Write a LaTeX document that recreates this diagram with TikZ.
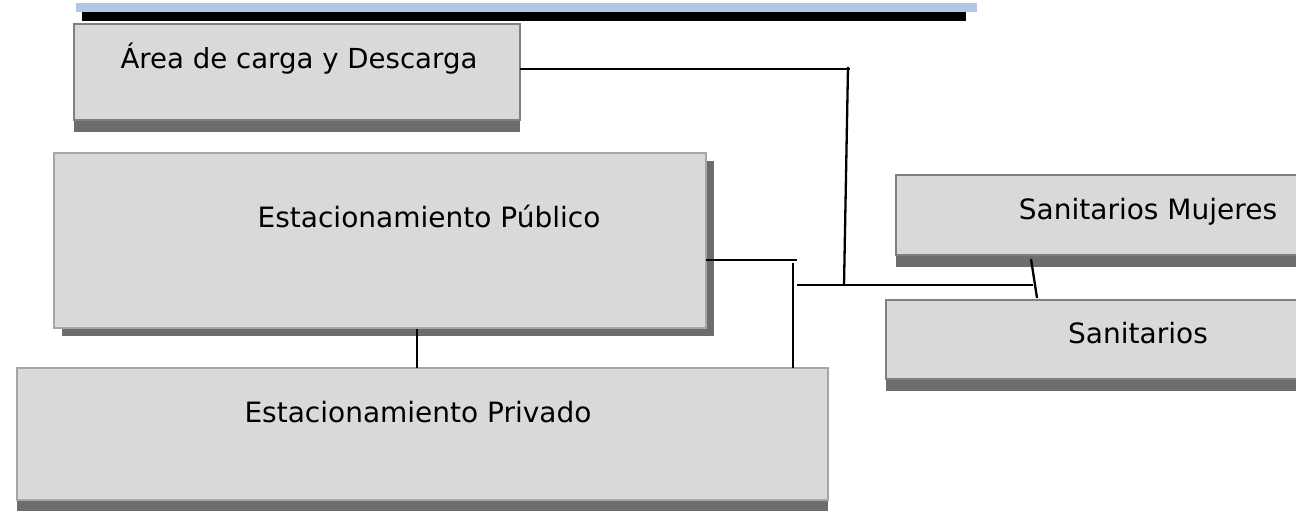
\documentclass[tikz,border=0pt]{standalone}
\usepackage{fontspec}
\setmainfont{DejaVu Sans}
\usetikzlibrary{shadows}
\definecolor{boxfill}{HTML}{D9D9D9}
\definecolor{darkedge}{HTML}{808080}
\definecolor{lightedge}{HTML}{A6A6A6}
\definecolor{shadowgray}{HTML}{6D6D6D}
\definecolor{barblue}{HTML}{B4C6E7}
\tikzset{
  boxbase/.style={rectangle, anchor=north west, inner sep=0pt, outer sep=0pt,
    fill=boxfill, line width=2pt},
  boxdark/.style={boxbase, draw=darkedge},
  boxlight/.style={boxbase, draw=lightedge},
  shadowdown/.style={drop shadow={shadow xshift=0pt, shadow yshift=-12pt,
    fill=shadowgray, opacity=1}},
  shadowcorner/.style={drop shadow={shadow xshift=8pt, shadow yshift=-8pt,
    fill=shadowgray, opacity=1}},
  lbl/.style={anchor=base, inner sep=0pt, font=\fontsize{28pt}{30pt}\selectfont},
  link/.style={draw=black, line width=2.3pt},
}
\begin{document}
\begin{tikzpicture}[x=1pt, y=-1pt]
\useasboundingbox (0,0) rectangle (1296,511);
\clip (0,0) rectangle (1296,511);
% top bars
\fill[barblue] (76,3) rectangle (977,12);
\fill[black] (82,12) rectangle (966,21);
% boxes
\node[boxdark, shadowdown, minimum width=446pt, minimum height=96pt] (A) at (74,24) {};
\node[boxlight, shadowcorner, minimum width=652pt, minimum height=175pt] (B) at (54,153) {};
\node[boxlight, shadowdown, minimum width=811pt, minimum height=132pt] (C) at (17,368) {};
\node[boxdark, shadowdown, minimum width=420pt, minimum height=80pt] (D) at (896,175) {};
\node[boxdark, shadowdown, minimum width=430pt, minimum height=79pt] (E) at (886,300) {};
% labels
\node[lbl, font=\fontsize{27.6pt}{29pt}\selectfont] (tA) at (299,69) {Área de carga y Descarga};
\node[lbl] (tB) at (429,227) {Estacionamiento Público};
\node[lbl] (tC) at (418,422) {Estacionamiento Privado};
\node[lbl] (tD) at (1148,219) {Sanitarios Mujeres};
\node[lbl] (tE) at (1138,343) {Sanitarios};
% junction points
\coordinate (j1) at (850,69);
\coordinate (j1v) at (848,67);
\coordinate (j2) at (844,286);
\coordinate (h1) at (797,285);
\coordinate (h2) at (1033,285);
\coordinate (b1) at (797,260);
\coordinate (v1) at (793,263);
\coordinate (s1) at (1031,259);
\coordinate (s2) at (1037,298);
\coordinate (p1) at (417,329);
% connectors
\draw[link] (A.east |- j1) -- (j1);
\draw[link] (j1v) -- (j2);
\draw[link] (h1) -- (h2);
\draw[link] (B.east |- b1) -- (b1);
\draw[link] (v1) -- (v1 |- C.north);
\draw[link] (s1) -- (s2);
\draw[link] (p1) -- (p1 |- C.north);
\end{tikzpicture}
\end{document}
